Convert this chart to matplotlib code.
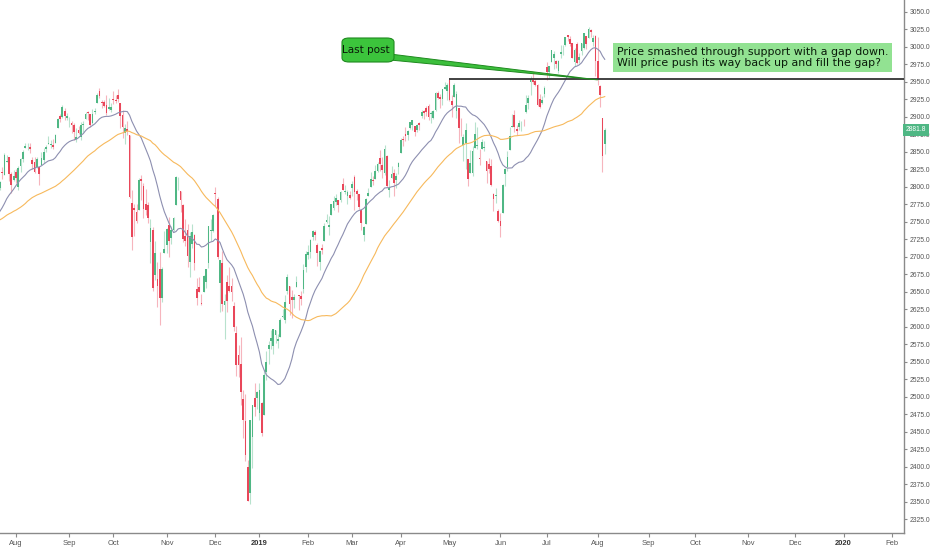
import matplotlib
matplotlib.use('Agg')
import matplotlib.pyplot as plt
import numpy as np
import pandas as pd
from matplotlib.patches import FancyBboxPatch, Polygon

# closes before the visible window (10 May - 20 Jul 2018), only to warm up the MAs
warmup_close = [2723.07, 2727.72, 2730.13, 2711.45, 2722.46, 2720.13, 2712.97, 2733.01, 2724.44, 2733.29,
                2727.76, 2721.33, 2689.86, 2724.01, 2705.27, 2734.62, 2746.87, 2748.80, 2772.35, 2770.37,
                2779.03, 2782.00, 2786.85, 2775.63, 2782.49, 2779.66, 2773.75, 2762.59, 2767.32, 2749.76,
                2754.88, 2717.07, 2723.06, 2699.63, 2716.31, 2718.37, 2726.71, 2713.22, 2736.61, 2759.82,
                2784.17, 2793.84, 2774.02, 2798.29, 2801.31, 2798.43, 2809.55, 2815.62, 2804.49, 2801.83]

# daily candles 23 Jul 2018 - 6 Aug 2019, one line per month
opens = [
    2799.2, 2820.7, 2817.7, 2835.5, 2842.4, 2819.0, 2809.7,
    2821.2, 2800.5, 2829.6, 2840.3, 2855.9, 2856.8, 2857.2, 2838.9, 2835.5, 2827.9, 2827.9, 2831.4, 2838.3, 2853.9, 2861.5, 2860.0, 2860.3, 2862.4, 2884.7, 2901.5, 2900.6, 2908.9, 2898.4,
    2896.5, 2891.6, 2888.6, 2868.3, 2881.4, 2871.6, 2888.3, 2896.9, 2906.4, 2903.8, 2890.7, 2906.6, 2919.7, 2936.8, 2921.8, 2921.8, 2916.9, 2911.7, 2910.0,
    2926.3, 2923.8, 2931.7, 2919.4, 2902.5, 2877.5, 2882.5, 2873.9, 2776.9, 2770.5, 2763.8, 2767.1, 2811.7, 2802.0, 2775.7, 2773.9, 2721.0, 2737.9, 2674.9, 2667.9, 2682.7, 2640.7, 2705.6,
    2717.6, 2745.5, 2726.4, 2738.4, 2774.1, 2806.4, 2794.1, 2773.9, 2730.1, 2737.9, 2693.5, 2718.5, 2730.7, 2654.6, 2657.7, 2633.4, 2650.0, 2663.8, 2691.5, 2737.0, 2737.8,
    2790.5, 2782.4, 2663.5, 2691.3, 2630.9, 2664.4, 2658.2, 2658.7, 2629.7, 2590.8, 2559.9, 2547.1, 2496.8, 2465.4, 2400.6, 2363.1, 2442.5, 2498.8, 2498.9,
    2477.0, 2491.9, 2474.3, 2535.6, 2568.1, 2580.0, 2573.5, 2588.1, 2580.3, 2585.1, 2614.8, 2609.3, 2651.3, 2657.9, 2643.5, 2638.8, 2657.4, 2645.0, 2644.9, 2653.6, 2685.5,
    2702.3, 2706.5, 2728.3, 2735.1, 2717.5, 2692.4, 2712.4, 2722.6, 2750.3, 2743.5, 2760.2, 2769.3, 2779.1, 2780.7, 2780.7, 2804.4, 2792.4, 2787.5, 2788.1,
    2798.2, 2814.4, 2794.4, 2790.3, 2766.5, 2730.8, 2747.6, 2787.3, 2799.8, 2810.4, 2810.8, 2822.6, 2840.8, 2831.3, 2819.7, 2844.5, 2796.0, 2812.7, 2819.7, 2809.4, 2828.3,
    2848.6, 2868.2, 2876.1, 2874.0, 2884.2, 2888.5, 2886.6, 2881.4, 2891.9, 2900.9, 2908.3, 2912.3, 2916.0, 2904.8, 2898.8, 2910.0, 2934.0, 2929.0, 2925.8, 2940.6, 2937.1,
    2952.3, 2922.2, 2929.2, 2908.9, 2913.0, 2879.6, 2859.8, 2863.1, 2840.2, 2820.1, 2820.4, 2855.8, 2858.6, 2841.9, 2854.0, 2856.1, 2836.7, 2832.4, 2830.0, 2790.3, 2786.9, 2766.2,
    2751.5, 2762.6, 2818.1, 2828.5, 2852.9, 2885.8, 2903.3, 2882.7, 2886.2, 2886.8, 2889.8, 2906.7, 2920.6, 2949.6, 2952.7, 2951.4, 2945.8, 2926.1, 2919.7, 2932.9,
    2971.4, 2964.7, 2978.1, 2984.2, 2979.8, 2965.5, 2989.3, 2999.6, 3003.4, 3017.8, 3012.1, 3005.1, 2978.9, 3004.3, 2981.9, 2994.7, 2998.8, 3016.3, 3013.3, 3024.5, 3007.7, 3016.2,
    2980.3, 2943.9, 2898.1, 2861.2,
]
highs = [
    2808.6, 2829.0, 2848.0, 2845.6, 2843.2, 2821.7, 2824.5,
    2825.8, 2829.9, 2841.0, 2853.3, 2863.4, 2862.4, 2862.5, 2842.2, 2843.4, 2843.1, 2827.9, 2850.5, 2855.6, 2859.8, 2873.2, 2867.5, 2868.8, 2876.2, 2898.3, 2903.8, 2916.5, 2912.5, 2906.3,
    2900.2, 2894.2, 2892.1, 2883.8, 2886.9, 2892.5, 2894.6, 2906.8, 2908.3, 2904.6, 2911.2, 2912.4, 2934.8, 2940.9, 2923.8, 2923.9, 2931.2, 2927.2, 2920.5,
    2937.1, 2931.4, 2939.9, 2919.8, 2909.6, 2889.5, 2894.8, 2874.0, 2795.1, 2775.8, 2776.0, 2813.5, 2816.9, 2806.0, 2797.8, 2778.9, 2753.6, 2742.6, 2722.7, 2692.4, 2706.9, 2685.4, 2736.7,
    2741.7, 2756.5, 2744.3, 2756.8, 2815.2, 2814.8, 2794.1, 2776.0, 2754.6, 2746.8, 2735.4, 2746.8, 2733.2, 2669.4, 2670.7, 2647.6, 2674.4, 2682.5, 2744.0, 2753.8, 2760.9,
    2800.2, 2785.9, 2696.1, 2708.5, 2647.5, 2674.4, 2685.4, 2670.2, 2635.1, 2601.1, 2574.0, 2585.3, 2509.6, 2504.4, 2410.3, 2467.8, 2489.1, 2520.3, 2509.2,
    2519.5, 2493.1, 2538.1, 2566.2, 2579.8, 2595.3, 2597.8, 2596.3, 2589.3, 2613.1, 2625.8, 2645.1, 2675.5, 2657.9, 2653.2, 2647.2, 2672.4, 2645.0, 2650.9, 2690.4, 2708.0,
    2716.7, 2725.0, 2739.0, 2738.1, 2719.3, 2708.1, 2718.1, 2748.2, 2761.9, 2757.9, 2775.7, 2787.3, 2789.9, 2781.5, 2794.2, 2813.5, 2803.1, 2795.8, 2793.7,
    2808.0, 2816.9, 2796.4, 2790.3, 2767.3, 2744.1, 2784.0, 2798.0, 2821.2, 2815.0, 2830.7, 2835.4, 2852.4, 2843.5, 2860.3, 2846.2, 2809.8, 2829.9, 2825.6, 2819.7, 2836.0,
    2869.4, 2872.9, 2885.3, 2881.3, 2893.2, 2896.0, 2886.9, 2889.7, 2893.4, 2910.5, 2909.6, 2916.1, 2918.0, 2908.4, 2909.5, 2936.3, 2936.8, 2933.1, 2939.9, 2949.5, 2948.2,
    2954.1, 2931.7, 2947.9, 2937.3, 2913.0, 2898.0, 2876.0, 2891.3, 2840.2, 2852.5, 2858.7, 2892.2, 2885.5, 2853.9, 2868.9, 2865.5, 2836.7, 2841.4, 2840.5, 2792.0, 2799.0, 2769.0,
    2763.1, 2804.5, 2827.3, 2852.1, 2885.0, 2904.8, 2910.6, 2888.6, 2895.2, 2894.5, 2897.3, 2930.8, 2931.7, 2958.1, 2964.2, 2954.9, 2946.5, 2932.6, 2929.3, 2944.0,
    2977.9, 2973.2, 2995.8, 2994.0, 2980.8, 2981.9, 3003.0, 3002.3, 3013.9, 3017.8, 3015.0, 3005.3, 2998.3, 3006.5, 2990.7, 3005.9, 3019.6, 3016.3, 3028.0, 3025.6, 3017.2, 3017.4,
    3013.6, 2945.5, 2898.1, 2884.4,
]
lows = [
    2795.1, 2811.1, 2817.7, 2835.3, 2808.3, 2791.5, 2808.1,
    2805.9, 2796.3, 2821.8, 2835.6, 2855.9, 2853.1, 2848.6, 2825.8, 2819.9, 2826.6, 2802.5, 2831.4, 2833.7, 2850.6, 2861.3, 2856.1, 2854.0, 2862.4, 2884.7, 2893.5, 2898.4, 2895.2, 2895.8,
    2885.1, 2876.9, 2867.3, 2864.1, 2875.9, 2866.8, 2879.2, 2896.4, 2895.8, 2886.2, 2890.4, 2903.8, 2919.7, 2927.1, 2912.6, 2913.7, 2903.3, 2909.3, 2907.5,
    2917.9, 2919.4, 2921.4, 2883.9, 2869.3, 2862.1, 2874.3, 2784.9, 2710.5, 2729.4, 2749.0, 2766.9, 2781.8, 2755.2, 2760.3, 2749.2, 2691.4, 2651.9, 2667.8, 2628.2, 2603.5, 2635.3, 2705.6,
    2705.4, 2700.4, 2717.9, 2737.1, 2774.1, 2795.0, 2764.2, 2722.0, 2715.0, 2685.8, 2670.7, 2712.2, 2681.1, 2631.5, 2649.8, 2631.1, 2650.0, 2655.9, 2684.4, 2722.9, 2736.2,
    2773.4, 2697.2, 2621.5, 2623.1, 2583.2, 2621.3, 2650.3, 2637.3, 2593.8, 2530.5, 2528.7, 2489.0, 2441.2, 2408.6, 2351.1, 2346.6, 2397.9, 2472.9, 2482.8,
    2467.5, 2444.0, 2474.3, 2524.6, 2547.6, 2568.9, 2562.0, 2577.4, 2570.4, 2585.1, 2612.7, 2606.4, 2647.6, 2617.3, 2612.9, 2627.0, 2657.3, 2624.1, 2631.1, 2648.3, 2678.7,
    2696.9, 2698.8, 2724.0, 2724.2, 2687.3, 2681.8, 2703.9, 2722.6, 2748.6, 2731.2, 2760.2, 2767.3, 2774.1, 2764.6, 2779.1, 2795.0, 2789.5, 2775.1, 2782.5,
    2787.4, 2767.7, 2782.0, 2768.7, 2739.1, 2722.3, 2747.6, 2786.7, 2799.8, 2803.5, 2810.8, 2822.0, 2823.3, 2812.4, 2817.4, 2800.5, 2785.0, 2812.7, 2787.7, 2798.8, 2819.2,
    2848.6, 2858.8, 2865.2, 2867.1, 2883.0, 2880.8, 2873.3, 2879.1, 2882.0, 2898.4, 2896.5, 2900.7, 2895.5, 2891.9, 2896.4, 2908.5, 2926.1, 2912.8, 2917.6, 2939.4, 2924.1,
    2923.4, 2900.5, 2929.2, 2898.2, 2862.6, 2873.3, 2836.4, 2825.4, 2801.4, 2820.1, 2815.1, 2855.8, 2854.2, 2831.3, 2854.0, 2851.1, 2805.5, 2820.2, 2801.6, 2766.1, 2776.7, 2750.5,
    2728.8, 2762.6, 2800.9, 2822.5, 2852.9, 2885.5, 2878.5, 2874.7, 2882.0, 2879.6, 2887.3, 2905.4, 2911.4, 2931.5, 2946.9, 2944.1, 2916.0, 2913.0, 2918.6, 2929.1,
    2952.2, 2955.9, 2978.0, 2968.0, 2970.1, 2963.4, 2984.6, 2988.8, 3001.9, 3008.8, 3001.2, 2984.3, 2973.1, 2975.9, 2976.7, 2988.6, 2996.8, 2997.2, 3012.6, 3014.5, 3000.9, 2958.1,
    2945.2, 2914.1, 2822.1, 2847.4,
]
closes = [
    2806.98, 2820.40, 2846.07, 2837.44, 2818.82, 2802.60, 2816.29,
    2813.36, 2827.22, 2840.35, 2850.40, 2858.45, 2857.70, 2853.58, 2833.28, 2821.93, 2839.96, 2818.37, 2840.69, 2850.13, 2857.05, 2862.96, 2861.82, 2856.98, 2874.69, 2896.74, 2897.52, 2914.04, 2901.13, 2901.52,
    2896.72, 2888.60, 2878.05, 2871.68, 2877.13, 2887.89, 2888.92, 2904.18, 2904.98, 2888.80, 2904.31, 2907.95, 2930.75, 2929.67, 2919.37, 2915.56, 2905.97, 2914.00, 2913.98,
    2924.59, 2923.43, 2925.51, 2901.61, 2885.57, 2884.43, 2880.34, 2785.68, 2728.37, 2767.13, 2750.79, 2809.92, 2809.21, 2768.78, 2767.78, 2755.88, 2740.69, 2656.10, 2705.57, 2658.69, 2641.25, 2682.63, 2711.74,
    2740.37, 2723.06, 2738.31, 2755.45, 2813.89, 2806.83, 2781.01, 2726.22, 2722.18, 2701.58, 2730.20, 2736.27, 2690.73, 2641.89, 2649.93, 2632.56, 2673.45, 2682.17, 2743.79, 2737.80, 2760.17,
    2790.37, 2700.06, 2695.95, 2633.08, 2637.72, 2636.78, 2651.07, 2650.54, 2599.95, 2545.94, 2546.16, 2506.96, 2467.42, 2416.62, 2351.10, 2467.70, 2488.83, 2485.74, 2506.85,
    2510.03, 2447.89, 2531.94, 2549.69, 2574.41, 2584.96, 2596.64, 2596.26, 2582.61, 2610.30, 2616.10, 2635.96, 2670.71, 2632.90, 2638.70, 2642.33, 2664.76, 2643.85, 2640.00, 2681.05, 2704.10,
    2706.53, 2724.87, 2737.70, 2731.61, 2706.05, 2707.88, 2709.80, 2744.73, 2753.03, 2745.73, 2775.60, 2779.76, 2784.70, 2774.88, 2792.67, 2796.11, 2793.90, 2792.38, 2784.49,
    2803.69, 2792.81, 2789.65, 2771.45, 2748.93, 2743.07, 2783.30, 2791.52, 2810.92, 2808.48, 2822.48, 2832.94, 2832.57, 2824.23, 2854.88, 2800.71, 2798.36, 2818.46, 2805.37, 2815.44, 2834.40,
    2867.19, 2867.24, 2873.40, 2879.39, 2892.74, 2895.77, 2878.20, 2888.21, 2888.32, 2907.41, 2905.58, 2907.06, 2900.45, 2905.03, 2907.97, 2933.68, 2927.25, 2926.17, 2939.88, 2943.03, 2945.83,
    2923.73, 2917.52, 2945.64, 2932.47, 2884.05, 2879.42, 2870.72, 2881.40, 2811.87, 2834.41, 2850.96, 2876.32, 2859.53, 2840.23, 2864.36, 2856.27, 2822.24, 2826.06, 2802.39, 2783.02, 2788.86, 2752.06,
    2744.45, 2803.27, 2826.15, 2843.49, 2873.34, 2886.73, 2885.72, 2879.84, 2891.64, 2886.98, 2889.67, 2917.75, 2926.46, 2954.18, 2950.46, 2945.35, 2917.38, 2913.78, 2924.92, 2941.76,
    2964.33, 2973.01, 2995.82, 2990.41, 2975.95, 2979.63, 2993.07, 2999.91, 3013.77, 3014.30, 3004.04, 2984.42, 2995.11, 2976.61, 2985.03, 3005.47, 3019.56, 3003.67, 3025.86, 3020.97, 3013.18, 2980.38,
    2953.56, 2932.05, 2844.74, 2881.77,
]

support_level = 2954.0
support_start = '2019-05-01'
callout_date = '2019-08-01'
callout_price = 2953.0
note_text = "Price smashed through support with a gap down.\nWill price push its way back up and fill the gap?"
ytick_values = list(range(2325, 3051, 25))

# NYSE closed days in the span
holidays = ['2018-05-28', '2018-07-04', '2018-09-03', '2018-11-22', '2018-12-05', '2018-12-25',
            '2019-01-01', '2019-01-21', '2019-02-18', '2019-04-19', '2019-05-27', '2019-07-04',
            '2019-09-02', '2019-11-28', '2019-12-25', '2020-01-01', '2020-01-20', '2020-02-17']

days = pd.bdate_range('2018-05-10', '2020-02-28')
days = days[~days.isin(pd.to_datetime(holidays))]
first = int(np.where(days == pd.Timestamp('2018-07-23'))[0][0])
assert first == len(warmup_close)
xs_all = np.arange(len(days)) - first  # bar index, 0 = 23 Jul 2018

n = len(closes)
x = np.arange(n)
o, h, l, c = (np.array(v) for v in (opens, highs, lows, closes))

GREEN = '#4fb784'
RED = '#e9475a'

fig = plt.figure(figsize=(9.32, 5.5), dpi=100)
W, H = 932, 550
ax_right, ax_bottom = 904, 533
ax = fig.add_axes([0, (H - ax_bottom) / H, ax_right / W, ax_bottom / H])

up = c >= o
cols = np.where(up, GREEN, RED)
ax.vlines(x, l, h, colors=cols, linewidth=0.8, alpha=0.4, zorder=2)
body_lo = np.minimum(o, c)
body_h = np.maximum(np.abs(c - o), 1.0)
ax.bar(x, body_h, bottom=body_lo, width=0.75, color=cols, linewidth=0, zorder=3)

# moving averages
all_close = pd.Series(warmup_close + closes)
sma20 = all_close.rolling(20).mean().to_numpy()[first:]
sma50 = all_close.rolling(50).mean().to_numpy()[first:]
ax.plot(x, sma20, color='#8d8fb0', linewidth=0.8, zorder=4)
ax.plot(x, sma50, color='#f7b95c', linewidth=0.8, zorder=4)

# support line
sx = int(xs_all[days == pd.Timestamp(support_start)][0])
ax.hlines(support_level, sx, 400, colors='#333333', linewidth=1.3, zorder=5)

ax.set_xlim(0.1, 390.1)
ax.set_ylim(2305.7, 3067.1)

# month ticks
month_first = []
for i in range(1, len(days)):
    if days[i].month != days[i - 1].month and xs_all[i] > 0:
        month_first.append(i)
tick_x = [xs_all[i] for i in month_first]
tick_lab = [str(days[i].year) if days[i].month == 1 else days[i].strftime('%b') for i in month_first]
ax.set_xticks(tick_x)
ax.set_xticklabels(tick_lab)

ax.yaxis.tick_right()
ax.set_yticks(ytick_values)
ax.set_yticklabels([f'{v:.1f}' for v in ytick_values])

for s in ('top', 'left'):
    ax.spines[s].set_visible(False)
for s in ('right', 'bottom'):
    ax.spines[s].set_color('#8a8a8a')
    ax.spines[s].set_linewidth(1.0)
ax.tick_params(axis='both', colors='#8a8a8a', length=3, width=0.8,
               labelcolor='#555555', pad=2)
ax.tick_params(axis='x', labelsize=5.4)
ax.tick_params(axis='y', labelsize=4.9, length=2.5, pad=1.5)
for t in ax.get_xticklabels() + ax.get_yticklabels():
    t.set_fontfamily('Liberation Sans')
for t, lab in zip(ax.get_xticklabels(), tick_lab):
    if lab.isdigit():
        t.set_fontweight('bold')
        t.set_color('#333333')

# last price tag
ax.text(1.002, closes[-1], f'{closes[-1]:.1f}', transform=ax.get_yaxis_transform(),
        ha='left', va='center', fontsize=4.9, color='white', family='Liberation Sans',
        bbox=dict(boxstyle='square,pad=0.4', fc=GREEN, ec='none'), clip_on=False, zorder=10)


def fpx(px, py):
    # pixel position -> axes fraction
    return px / ax_right, (ax_bottom - py) / ax_bottom


# "Last post" callout
cx = int(xs_all[days == pd.Timestamp(callout_date)][0])
tip = ax.transAxes.inverted().transform(ax.transData.transform((cx, callout_price)))
wedge = Polygon([fpx(390, 54), fpx(390, 60), tip], closed=True, transform=ax.transAxes,
                fc='#3cbf3c', ec='#1f8a1f', linewidth=0.7, zorder=7)
ax.add_patch(wedge)
bx0, by0 = fpx(342, 62)
bx1, by1 = fpx(394, 38)
box = FancyBboxPatch((bx0, by0), bx1 - bx0, by1 - by0, transform=ax.transAxes,
                     boxstyle='round,pad=0,rounding_size=0.008', fc='#3cc43c', ec='#1f8a1f',
                     linewidth=0.8, zorder=8)
ax.add_patch(box)
ax.text((bx0 + bx1) / 2 - 0.002, (by0 + by1) / 2, 'Last post', transform=ax.transAxes,
        ha='center', va='center', fontsize=7.5, color='#0a1a0a', zorder=9)

# note
tx, ty = fpx(617, 57.5)
ax.text(tx, ty, note_text, transform=ax.transAxes, ha='left', va='center', fontsize=7.95,
        color='#0a1c0a', linespacing=1.05, zorder=9,
        bbox=dict(boxstyle='square,pad=0.35', fc='#92e292', ec='none'))

fig.savefig('out.png', dpi=100, facecolor='white')
